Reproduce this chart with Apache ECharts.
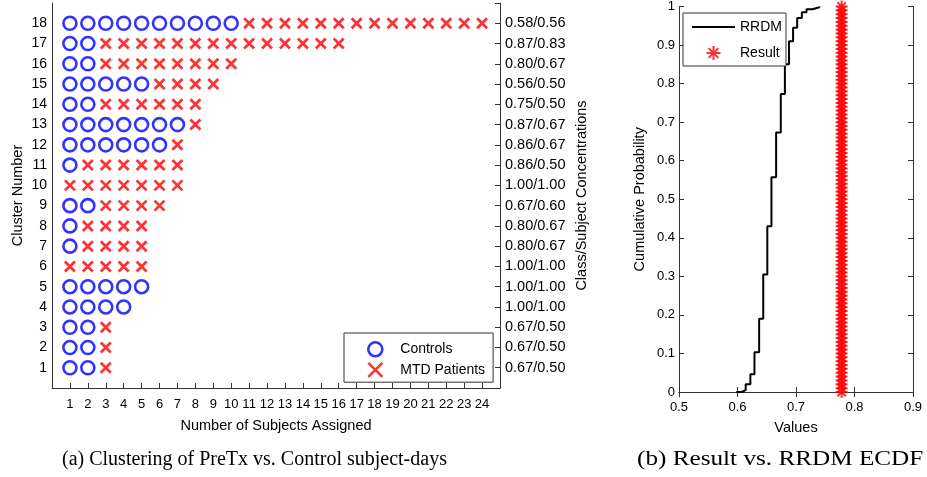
<!DOCTYPE html>
<html><head><meta charset="utf-8">
<script src="https://cdn.jsdelivr.net/npm/echarts@6/dist/echarts.min.js"></script>
<style>html,body{margin:0;padding:0;background:#fff}#c{width:927px;height:477px}</style>
</head><body><div id="c"></div>
<script>
// ---- data: panel (a) ----
const clusters = [1,2,3,4,5,6,7,8,9,10,11,12,13,14,15,16,17,18];
const controlCounts = [2,2,2,4,5,0,1,1,2,0,1,6,7,2,5,2,2,10];
const patientCounts = [1,1,1,0,0,5,4,4,4,7,6,1,1,6,4,8,14,14];
const concentrationLabels = ['0.67/0.50','0.67/0.50','0.67/0.50','1.00/1.00','1.00/1.00','1.00/1.00',
  '0.80/0.67','0.80/0.67','0.67/0.60','1.00/1.00','0.86/0.50','0.86/0.67','0.87/0.67','0.75/0.50',
  '0.56/0.50','0.80/0.67','0.87/0.83','0.58/0.56'];
// ---- data: panel (b) ----
const ecdfValues = [0.598,0.607,0.614,0.622,0.629,0.637,0.644,0.651,0.658,0.666,0.674,0.681,0.688,0.695,0.702,0.710,0.718,0.728,0.740];
const ecdfProb   = [0,0.005,0.02,0.046,0.103,0.19,0.305,0.43,0.557,0.673,0.773,0.85,0.91,0.945,0.97,0.985,0.993,0.998,1.0];
const resultValue = 0.778;
const resultProb = [0,0.01,0.02,0.03,0.04,0.05,0.06,0.07,0.08,0.09,0.10,0.11,0.12,0.13,0.14,0.15,0.16,0.17,0.18,0.19,
  0.20,0.21,0.22,0.23,0.24,0.25,0.26,0.27,0.28,0.29,0.30,0.31,0.32,0.33,0.34,0.35,0.36,0.37,0.38,0.39,
  0.40,0.41,0.42,0.43,0.44,0.45,0.46,0.47,0.48,0.49,0.50,0.51,0.52,0.53,0.54,0.55,0.56,0.57,0.58,0.59,
  0.60,0.61,0.62,0.63,0.64,0.65,0.66,0.67,0.68,0.69,0.70,0.71,0.72,0.73,0.74,0.75,0.76,0.77,0.78,0.79,
  0.80,0.81,0.82,0.83,0.84,0.85,0.86,0.87,0.88,0.89,0.90,0.91,0.92,0.93,0.94,0.95,0.96,0.97,0.98,0.99,1.00];
const captionA = '(a) Clustering of PreTx vs. Control subject-days';
const captionB = '(b) Result vs. RRDM ECDF';

const controlPts = [], patientPts = [];
clusters.forEach((c, i) => {
  for (let k = 1; k <= controlCounts[i]; k++) controlPts.push([k, c]);
  for (let k = 1; k <= patientCounts[i]; k++) patientPts.push([controlCounts[i] + k, c]);
});
const ecdfData = ecdfValues.map((v, i) => [v, ecdfProb[i]]);
const resultData = resultProb.map(p => [resultValue, p]);

const FONT = 'Liberation Sans';
const axisCol = '#333';
const lineStyle = {color: axisCol, width: 1};
const tickIn = {show: true, inside: true, length: 5, lineStyle: {color: axisCol}};
const lbl = {color: '#000', fontSize: 13, fontFamily: FONT};
const nameStyle = {color: '#000', fontSize: 14.5, fontFamily: FONT};
const CROSS = 'path://M0,0L10,10M10,0L0,10';
const STAR = 'path://M5,0L5,10M0,5L10,5M1.5,1.5L8.5,8.5M8.5,1.5L1.5,8.5';
const LINEICON = 'path://M0,0L43,0L43,2L0,2Z';

const chart = echarts.init(document.getElementById('c'), null, {renderer: 'canvas'});
chart.setOption({
  animation: false,
  backgroundColor: '#fff',
  title: [
    {text: captionA, left: 62, top: 450, padding: 0,
     textStyle: {fontFamily: 'Liberation Serif', fontSize: 20, fontWeight: 'normal', color: '#000'}}
  ],
  graphic: [
    {type: 'text', x: 637, y: 450, scaleX: 1.26, silent: true,
     style: {text: captionB, font: '20px "Liberation Serif"', fill: '#000', verticalAlign: 'top', align: 'left'}}
  ],
  grid: [
    {left: 52, right: 427, top: 3, bottom: 89},
    {left: 679, right: 14, top: 5, bottom: 85}
  ],
  legend: [
    {data: ['Controls', 'MTD Patients'], orient: 'vertical', left: 344, top: 333,
     itemWidth: 40, itemHeight: 14, itemGap: 4, padding: [8, 8, 4, 23],
     borderColor: axisCol, borderWidth: 1, backgroundColor: '#fff',
     textStyle: {color: '#000', fontSize: 14, fontFamily: FONT}, itemStyle: {borderWidth: 2.6},
     selectedMode: false},
    {data: [{name: 'RRDM', icon: LINEICON}, 'Result'], orient: 'vertical', left: 683, top: 13,
     itemWidth: 43, itemHeight: 14, itemGap: 11, padding: [7, 4, 5, 9],
     borderColor: axisCol, borderWidth: 1, backgroundColor: '#fff',
     textStyle: {color: '#000', fontSize: 14, fontFamily: FONT}, selectedMode: false}
  ],
  xAxis: [
    {gridIndex: 0, type: 'value', min: 0, max: 25, interval: 1, position: 'bottom',
     axisLine: {lineStyle}, axisTick: tickIn, splitLine: {show: false},
     axisLabel: Object.assign({}, lbl, {margin: 10, formatter: v => (v >= 1 && v <= 24) ? String(v) : ''}),
     name: 'Number of Subjects Assigned', nameLocation: 'middle', nameGap: 30, nameTextStyle: nameStyle},
    {gridIndex: 1, type: 'value', min: 0.5, max: 0.9, interval: 0.1, position: 'bottom',
     axisLine: {lineStyle}, axisTick: tickIn, splitLine: {show: false},
     axisLabel: Object.assign({}, lbl, {margin: 9}),
     name: 'Values', nameLocation: 'middle', nameGap: 28, nameTextStyle: nameStyle},
    {gridIndex: 1, type: 'value', min: 0.5, max: 0.9, interval: 0.1, position: 'top',
     axisLine: {lineStyle}, axisTick: tickIn, splitLine: {show: false}, axisLabel: {show: false}}
  ],
  yAxis: [
    {gridIndex: 0, type: 'value', min: 0, max: 19, interval: 1, position: 'left',
     axisLine: {show: true, lineStyle}, axisTick: {show: false}, splitLine: {show: false},
     axisLabel: Object.assign({}, lbl, {fontSize: 14, margin: 5, formatter: v => (v >= 1 && v <= 18) ? String(v) : ''}),
     name: 'Cluster Number', nameLocation: 'middle', nameGap: 27, nameTextStyle: nameStyle},
    {gridIndex: 0, type: 'value', min: 0, max: 19, interval: 1, position: 'right',
     axisLine: {show: true, lineStyle}, axisTick: tickIn, splitLine: {show: false},
     axisLabel: Object.assign({}, lbl, {fontSize: 14.5, margin: 5,
       formatter: v => (v >= 1 && v <= 18) ? concentrationLabels[v - 1] : ''}),
     name: 'Class/Subject Concentrations', nameLocation: 'middle', nameGap: 74, nameTextStyle: nameStyle},
    {gridIndex: 1, type: 'value', min: 0, max: 1, interval: 0.1, position: 'left',
     axisLine: {show: true, lineStyle}, axisTick: tickIn, splitLine: {show: false},
     axisLabel: Object.assign({}, lbl, {margin: 4}),
     name: 'Cumulative Probability', nameLocation: 'middle', nameGap: 32, nameTextStyle: nameStyle},
    {gridIndex: 1, type: 'value', min: 0, max: 1, interval: 0.1, position: 'right',
     axisLine: {show: true, lineStyle}, axisTick: tickIn, splitLine: {show: false}, axisLabel: {show: false}}
  ],
  series: [
    {name: 'Controls', type: 'scatter', xAxisIndex: 0, yAxisIndex: 0, data: controlPts,
     symbol: 'circle', symbolSize: 13, silent: true,
     itemStyle: {color: 'rgba(0,0,0,0)', borderColor: '#0000ff', borderWidth: 2.6}},
    {name: 'MTD Patients', type: 'scatter', xAxisIndex: 0, yAxisIndex: 0, data: patientPts,
     symbol: CROSS, symbolSize: 10, silent: true,
     itemStyle: {color: '#ff0000', borderColor: '#ff0000', borderWidth: 2.8}},
    {name: 'RRDM', type: 'line', xAxisIndex: 1, yAxisIndex: 2, data: ecdfData, step: 'end',
     symbol: 'none', silent: true, lineStyle: {color: '#000', width: 2}, itemStyle: {color: '#000'}},
    {name: 'Result', type: 'scatter', xAxisIndex: 1, yAxisIndex: 2, data: resultData,
     symbol: STAR, symbolSize: 12, silent: true, clip: false,
     itemStyle: {color: '#ff0000', borderColor: '#ff0000', borderWidth: 2}}
  ]
});
</script></body></html>
